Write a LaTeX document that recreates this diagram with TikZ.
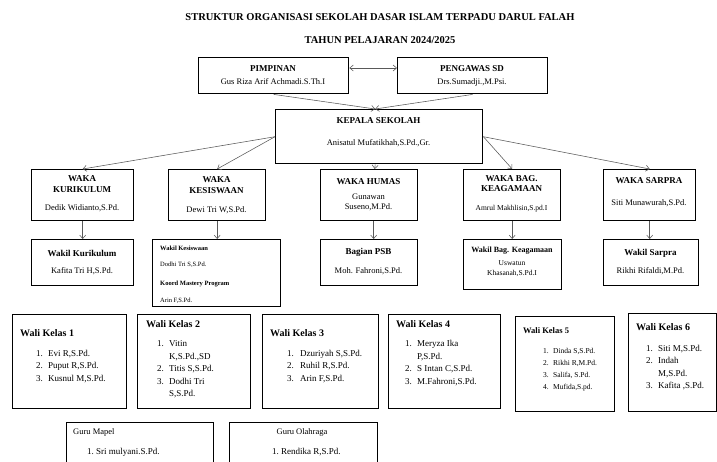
\documentclass[tikz,border=0pt]{standalone}
\usepackage{fontspec}
\setmainfont{Liberation Serif}
\usetikzlibrary{arrows.meta,calc}
\newcommand\mybox[5]{\node[box,minimum width={#4pt-#2pt},minimum height={#5pt-#3pt}] (#1) at (#2,#3) {};}
\newcommand\mylist[2]{\begin{tabular}[t]{@{}p{#1pt}@{}l@{}}#2\end{tabular}}
\begin{document}
\begin{tikzpicture}[x=1pt,y=-1pt,
  box/.style={draw, line width=1.4pt, inner sep=0pt, anchor=north west},
  arr/.style={draw=black!65, line width=0.55pt, -{Straight Barb[length=3.5pt,width=6pt,line width=0.55pt]}},
  arrtwo/.style={draw=black!65, line width=0.55pt, {Straight Barb[length=3.5pt,width=6pt,line width=0.55pt]}-{Straight Barb[length=3.5pt,width=6pt,line width=0.55pt]}},
  ttl/.style={font=\fontsize{10.5}{12}\selectfont\bfseries, inner sep=0pt, anchor=base},
  hd/.style={font=\fontsize{9}{10}\selectfont\bfseries, inner sep=0pt, anchor=base},
  nm/.style={font=\fontsize{8.5}{10}\selectfont, inner sep=0pt, anchor=base},
  sm/.style={font=\fontsize{7.5}{9}\selectfont, inner sep=0pt, anchor=base},
  tinyb/.style={font=\fontsize{6.5}{8}\selectfont\bfseries, inner sep=0pt, anchor=base west},
  tinyr/.style={font=\fontsize{6.5}{8}\selectfont, inner sep=0pt, anchor=base west},
  wh/.style={font=\fontsize{10}{11}\selectfont\bfseries, inner sep=0pt, anchor=base west},
  lst/.style={font=\fontsize{9}{12.6}\selectfont, inner sep=0pt, anchor=base west},
  lsts/.style={font=\fontsize{7.5}{12}\selectfont, inner sep=0pt, anchor=base west},
]
\useasboundingbox (0,0) rectangle (717,461);
\clip (0,0) rectangle (717,461);
\fill[white] (0,0) rectangle (717,461);

% titles
\node[ttl] (t1) at (380,20) {STRUKTUR ORGANISASI SEKOLAH DASAR ISLAM TERPADU DARUL FALAH};
\node[ttl] (t2) at (380,43) {TAHUN PELAJARAN 2024/2025};

% top boxes
\mybox{pim}{198}{57}{348}{93}
\node[hd] (pimA) at (273,71) {PIMPINAN};
\node[nm] (pimB) at (273,84) {Gus Riza Arif Achmadi.S.Th.I};
\mybox{pen}{397}{57}{547}{93}
\node[hd] (penA) at (472,71) {PENGAWAS SD};
\node[nm] (penB) at (472,84) {Drs.Sumadji.,M.Psi.};
\draw[arrtwo] ([yshift=-11pt]pim.north east) -- ([yshift=-11pt]pen.north west);

\mybox{kep}{275}{109}{482}{163}
\node[hd] (kepA) at (378.5,123) {KEPALA SEKOLAH};
\node[nm] (kepB) at (378.5,145) {Anisatul Mufatikhah,S.Pd.,Gr.};
\draw[arr] (pim.south) -- ([xshift=-4pt]kep.north);
\draw[arr] (pen.south) -- ([xshift=-4pt]kep.north);

% WAKA row
\mybox{wkA}{31}{169}{133}{220}
\node[hd] (wkAa) at (82,181) {WAKA};
\node[hd] (wkAb) at (82,192) {KURIKULUM};
\node[nm] (wkAc) at (82,210) {Dedik Widianto,S.Pd.};
\mybox{wkB}{168}{169}{265}{220}
\node[hd] (wkBa) at (216.5,182) {WAKA};
\node[hd] (wkBb) at (216.5,193) {KESISWAAN};
\node[nm] (wkBc) at (216.5,212) {Dewi Tri W,S.Pd.};
\mybox{wkC}{320}{169}{417}{220}
\node[hd] (wkCa) at (368.5,184) {WAKA HUMAS};
\node[nm] (wkCb) at (368.5,199) {Gunawan};
\node[nm] (wkCc) at (368.5,209) {Suseno,M.Pd.};
\mybox{wkD}{463}{169}{560}{220}
\node[hd] (wkDa) at (511.5,181) {WAKA BAG.};
\node[hd] (wkDb) at (511.5,191) {KEAGAMAAN};
\node[sm] (wkDc) at (511.5,210) {Amrul Makhlisin,S.pd.I};
\mybox{wkE}{603}{169}{695}{220}
\node[hd] (wkEa) at (649,183) {WAKA SARPRA};
\node[nm] (wkEb) at (649,205) {Siti Munawurah,S.Pd.};

\draw[arr] (kep.west) -- (wkA.north);
\draw[arr] (kep.west) -- (wkB.north);
\draw[arr] ([xshift=-4pt]kep.south) -- ([xshift=5.5pt]wkC.north);
\draw[arr] (kep.east) -- (wkD.north);
\draw[arr] (kep.east) -- (wkE.north);

% Wakil row
\mybox{wlA}{31}{239}{133}{285}
\node[hd] (wlAa) at (82,256) {Wakil Kurikulum};
\node[nm] (wlAb) at (82,273) {Kafita Tri H,S.Pd.};
\mybox{wlB}{152}{239}{280}{306}
\node[tinyb] (wlBa) at (160,250.5) {Wakil Kesiswaan};
\node[tinyr] (wlBb) at (160,266) {Dodhi Tri S,S.Pd.};
\node[tinyb] (wlBc) at (160,285.5) {Koord Mastery Program};
\node[tinyr] (wlBd) at (160,302.5) {Arin F,S.Pd.};
\mybox{wlC}{320}{239}{417}{285}
\node[hd] (wlCa) at (368.5,254) {Bagian PSB};
\node[nm] (wlCb) at (368.5,273) {Moh. Fahroni,S.Pd.};
\mybox{wlD}{463}{239}{561}{289}
\node[hd,font=\fontsize{8}{9}\selectfont\bfseries] (wlDa) at (512,252) {Wakil Bag. Keagamaan};
\node[sm] (wlDb) at (512,265) {Uswatun};
\node[sm] (wlDc) at (512,275) {Khasanah,S.Pd.I};
\mybox{wlE}{603}{239}{698}{285}
\node[hd] (wlEa) at (650.5,255) {Wakil Sarpra};
\node[nm] (wlEb) at (650.5,273) {Rikhi Rifaldi,M.Pd.};

\draw[arr] (wkA.south) -- (wkA.south |- wlA.north);
\draw[arr] (wkB.south) -- (wkB.south |- wlB.north);
\draw[arr] ([xshift=4.5pt]wkC.south) -- ([xshift=4.5pt]wlC.north);
\draw[arr] (wkD.south) -- (wkD.south |- wlD.north);
\draw[arr] (wkE.south) -- (wkE.south |- wlE.north);

% Wali kelas row
\mybox{waA}{12}{314}{126}{408}
\node[wh] (waAh) at (20,336.5) {Wali Kelas 1};
\node[lst] (waAl) at (36,356) {\mylist{12}{1.&Evi R,S.Pd.\\2.&Puput R,S.Pd.\\3.&Kusnul M,S.Pd.}};
\mybox{waB}{137}{314}{250}{408}
\node[wh] (waBh) at (146,327.5) {Wali Kelas 2};
\node[lst] (waBl) at (157,346.5) {\mylist{12}{1.&Vitin\\&K,S.Pd.,SD\\2.&Titis S,S.Pd.\\3.&Dodhi Tri\\&S,S.Pd.}};
\mybox{waC}{262}{314}{378}{408}
\node[wh] (waCh) at (270,336.5) {Wali Kelas 3};
\node[lst] (waCl) at (287,356) {\mylist{13}{1.&Dzuriyah S,S.Pd.\\2.&Ruhil R,S.Pd.\\3.&Arin F,S.Pd.}};
\mybox{waD}{388}{314}{500}{408}
\node[wh] (waDh) at (396,327.5) {Wali Kelas 4};
\node[lst] (waDl) at (405,346.5) {\mylist{12}{1.&Meryza Ika\\&P,S.Pd.\\2.&S Intan C,S.Pd.\\3.&M.Fahroni,S.Pd.}};
\mybox{waE}{515}{316}{614}{411}
\node[wh,font=\fontsize{8.5}{10}\selectfont\bfseries] (waEh) at (523,333) {Wali Kelas 5};
\node[lsts] (waEl) at (543,353) {\mylist{10}{1.&Dinda S,S.Pd.\\2.&Rikhi R,M.Pd.\\3.&Salifa, S.Pd.\\4.&Mufida,S.pd.}};
\mybox{waF}{628}{313}{716}{411}
\node[wh] (waFh) at (636,330) {Wali Kelas 6};
\node[lst] (waFl) at (646,351) {\mylist{12}{1.&Siti M,S.Pd.\\2.&Indah\\&M,S.Pd.\\3.&Kafita ,S.Pd.}};

% Guru row
\mybox{gm}{66}{422}{213}{480}
\node[nm,anchor=base west] (gmh) at (73,434.5) {Guru Mapel};
\node[lst] (gml) at (87,454) {\mylist{9}{1.&Sri mulyani.S.Pd.}};
\mybox{go}{229}{422}{377}{480}
\node[nm] (goh) at (302,434.5) {Guru Olahraga};
\node[lst] (gol) at (272,454) {\mylist{9}{1.&Rendika R,S.Pd.}};
\end{tikzpicture}
\end{document}
